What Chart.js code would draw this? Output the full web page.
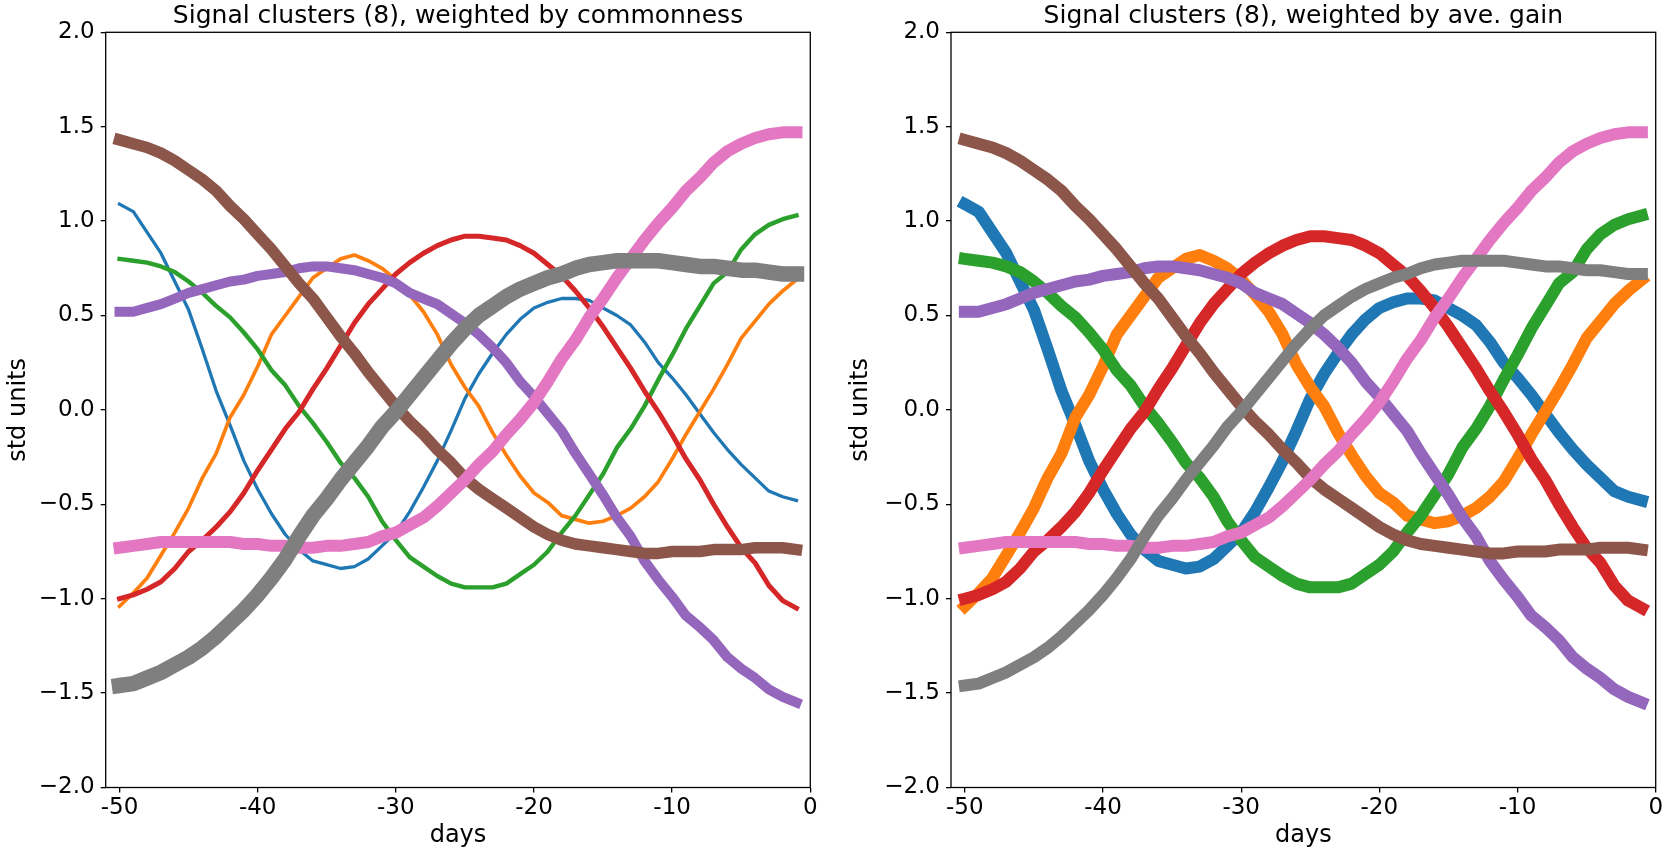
<!DOCTYPE html>
<html>
<head>
<meta charset="utf-8">
<title>Signal clusters</title>
<script src="https://cdn.jsdelivr.net/npm/chart.js@4"></script>
<style>
    html, body { margin: 0; padding: 0; background: #fff; }
    #page { position: relative; width: 1667px; height: 855px; overflow: hidden; }
    .panel { position: absolute; top: 0; }
    #panel-left { left: 0; }
    #panel-right { left: 842px; }
</style>
</head>
<body>
<div id="page">
    <div class="panel" id="panel-left"><canvas id="chart-left" width="842" height="855"></canvas></div>
    <div class="panel" id="panel-right"><canvas id="chart-right" width="825" height="855"></canvas></div>
</div>
<script>
// ─── Data ───
const days = [-50, -49, -48, -47, -46, -45, -44, -43, -42, -41,
    -40, -39, -38, -37, -36, -35, -34, -33, -32, -31,
    -30, -29, -28, -27, -26, -25, -24, -23, -22, -21,
    -20, -19, -18, -17, -16, -15, -14, -13, -12, -11,
    -10, -9, -8, -7, -6, -5, -4, -3, -2, -1];

const clusterBlue = [1.09, 1.05, 0.94, 0.83, 0.68, 0.53, 0.32, 0.10, -0.08, -0.27,
    -0.42, -0.55, -0.66, -0.74, -0.80, -0.82, -0.84, -0.83, -0.79, -0.72,
    -0.65, -0.54, -0.41, -0.27, -0.11, 0.06, 0.19, 0.30, 0.40, 0.48,
    0.54, 0.57, 0.59, 0.59, 0.58, 0.54, 0.50, 0.45, 0.36, 0.25,
    0.17, 0.08, -0.02, -0.12, -0.21, -0.29, -0.36, -0.43, -0.46, -0.48];

const clusterOrange = [-1.04, -0.97, -0.89, -0.77, -0.65, -0.52, -0.36, -0.23, -0.04, 0.08,
    0.23, 0.40, 0.50, 0.60, 0.70, 0.75, 0.80, 0.82, 0.79, 0.75,
    0.69, 0.61, 0.52, 0.40, 0.24, 0.12, 0.02, -0.12, -0.24, -0.35,
    -0.44, -0.49, -0.56, -0.58, -0.60, -0.59, -0.56, -0.52, -0.46, -0.38,
    -0.26, -0.13, -0.01, 0.11, 0.24, 0.38, 0.47, 0.56, 0.63, 0.69];

const clusterGreen = [0.80, 0.79, 0.78, 0.76, 0.73, 0.68, 0.62, 0.55, 0.49, 0.41,
    0.32, 0.21, 0.13, 0.02, -0.07, -0.17, -0.28, -0.36, -0.46, -0.59,
    -0.69, -0.78, -0.83, -0.88, -0.92, -0.94, -0.94, -0.94, -0.92, -0.87,
    -0.82, -0.75, -0.65, -0.56, -0.45, -0.34, -0.20, -0.10, 0.02, 0.16,
    0.29, 0.43, 0.55, 0.67, 0.73, 0.85, 0.93, 0.98, 1.01, 1.03];

const clusterRed = [-1.00, -0.98, -0.95, -0.91, -0.84, -0.75, -0.69, -0.62, -0.54, -0.44,
    -0.32, -0.21, -0.10, -0.01, 0.11, 0.22, 0.34, 0.46, 0.56, 0.64,
    0.72, 0.78, 0.83, 0.87, 0.90, 0.92, 0.92, 0.91, 0.90, 0.87,
    0.83, 0.77, 0.71, 0.63, 0.54, 0.44, 0.33, 0.22, 0.10, -0.01,
    -0.13, -0.26, -0.37, -0.50, -0.62, -0.73, -0.81, -0.93, -1.01, -1.05];

const clusterPurple = [0.52, 0.52, 0.54, 0.56, 0.59, 0.62, 0.64, 0.66, 0.68, 0.69,
    0.71, 0.72, 0.73, 0.75, 0.76, 0.76, 0.75, 0.74, 0.72, 0.70,
    0.67, 0.62, 0.59, 0.56, 0.51, 0.46, 0.40, 0.33, 0.25, 0.15,
    0.07, -0.02, -0.11, -0.23, -0.34, -0.45, -0.57, -0.67, -0.80, -0.90,
    -0.99, -1.09, -1.15, -1.22, -1.31, -1.37, -1.42, -1.48, -1.52, -1.55];

const clusterBrown = [1.43, 1.41, 1.39, 1.36, 1.32, 1.27, 1.22, 1.16, 1.08, 1.01,
    0.93, 0.85, 0.76, 0.67, 0.59, 0.49, 0.39, 0.30, 0.20, 0.11,
    0.02, -0.06, -0.13, -0.21, -0.28, -0.36, -0.42, -0.47, -0.52, -0.57,
    -0.62, -0.66, -0.69, -0.71, -0.72, -0.73, -0.74, -0.75, -0.76, -0.76,
    -0.75, -0.75, -0.75, -0.74, -0.74, -0.74, -0.73, -0.73, -0.73, -0.74];

const clusterPink = [-0.73, -0.72, -0.71, -0.70, -0.70, -0.70, -0.70, -0.70, -0.70, -0.71,
    -0.71, -0.72, -0.72, -0.73, -0.73, -0.72, -0.72, -0.71, -0.70, -0.67,
    -0.65, -0.61, -0.57, -0.51, -0.44, -0.37, -0.29, -0.22, -0.13, -0.05,
    0.04, 0.15, 0.27, 0.37, 0.49, 0.59, 0.70, 0.80, 0.90, 0.99,
    1.07, 1.16, 1.23, 1.31, 1.37, 1.41, 1.44, 1.46, 1.47, 1.47];

const clusterGray = [-1.46, -1.45, -1.42, -1.39, -1.35, -1.31, -1.26, -1.20, -1.13, -1.06,
    -0.98, -0.89, -0.79, -0.67, -0.56, -0.47, -0.37, -0.28, -0.19, -0.09,
    -0.01, 0.08, 0.17, 0.26, 0.35, 0.43, 0.50, 0.55, 0.60, 0.64,
    0.67, 0.70, 0.72, 0.75, 0.77, 0.78, 0.79, 0.79, 0.79, 0.79,
    0.78, 0.77, 0.76, 0.76, 0.75, 0.74, 0.74, 0.73, 0.72, 0.72];

const xTicks = [-50, -40, -30, -20, -10, 0];
const xTickLabels = ['-50', '-40', '-30', '-20', '-10', '0'];
const yTicks = [-2, -1.5, -1, -0.5, 0, 0.5, 1, 1.5, 2];
const yTickLabels = ['\u22122.0', '\u22121.5', '\u22121.0', '\u22120.5', '0.0', '0.5', '1.0', '1.5', '2.0'];

const titleLeft = 'Signal clusters (8), weighted by commonness';
const titleRight = 'Signal clusters (8), weighted by ave. gain';

(() => {
    'use strict';

    // ─── Styles ───
    const FONT = '"DejaVu Sans", "Liberation Sans", sans-serif';
    const colors = ['#1f77b4', '#ff7f0e', '#2ca02c', '#d62728', '#9467bd', '#8c564b', '#e377c2', '#7f7f7f'];
    const series = [clusterBlue, clusterOrange, clusterGreen, clusterRed, clusterPurple, clusterBrown, clusterPink, clusterGray];
    const widthsCommon = [3.3, 3.7, 4.4, 5, 10, 11.5, 12, 15.5];
    const widthsGain = [12, 12, 12, 12, 12, 12, 12, 12];

    // box around the plot area (matplotlib spines)
    const framePlugin = {
        id: 'frame',
        afterDatasetsDraw(chart) {
            const { ctx, chartArea: a } = chart;
            ctx.save();
            ctx.strokeStyle = '#000';
            ctx.lineWidth = 1.3;
            ctx.strokeRect(a.left, a.top, a.right - a.left, a.bottom - a.top);
            ctx.restore();
        },
    };

    function makeChart(id, title, widths, box) {
        const datasets = series.map((vals, i) => ({
            label: 'cluster ' + (i + 1),
            data: days.map((d, j) => ({ x: d, y: vals[j] })),
            borderColor: colors[i],
            backgroundColor: colors[i],
            borderWidth: widths[i],
            borderCapStyle: 'square',
            borderJoinStyle: 'round',
            pointRadius: 0,
            tension: 0,
            fill: false,
            clip: false,
            order: series.length - i,   // later series drawn on top
        }));

        return new Chart(document.getElementById(id), {
            type: 'line',
            data: { datasets },
            plugins: [framePlugin],
            options: {
                responsive: false,
                animation: false,
                layout: { padding: { left: 0, right: box.padRight, top: 0, bottom: 0 } },
                plugins: {
                    legend: { display: false },
                    tooltip: { enabled: false },
                    title: {
                        display: true,
                        fullSize: false,   // centre over the plot area, not the canvas
                        text: title,
                        color: '#000',
                        font: { family: FONT, size: 25, weight: 'normal' },
                        padding: { top: 1, bottom: 1.3 },
                    },
                },
                scales: {
                    x: {
                        type: 'linear',
                        min: -51,
                        max: 0,
                        afterBuildTicks: (axis) => { axis.ticks = xTicks.map(v => ({ value: v })); },
                        afterFit: (axis) => { axis.height = 67.5; },
                        ticks: {
                            color: '#000',
                            font: { family: FONT, size: 23 },
                            padding: 2,
                            maxRotation: 0,
                            autoSkip: false,
                            callback: (v, i) => xTickLabels[i],
                        },
                        grid: { drawOnChartArea: false, drawTicks: true, tickLength: 5, color: '#000', lineWidth: 1.3 },
                        border: { display: false },
                        title: {
                            display: true,
                            text: 'days',
                            color: '#000',
                            font: { family: FONT, size: 24 },
                            padding: { top: 0, bottom: 4.5 },
                        },
                    },
                    y: {
                        type: 'linear',
                        min: -2,
                        max: 2,
                        afterBuildTicks: (axis) => { axis.ticks = yTicks.map(v => ({ value: v })); },
                        afterFit: (axis) => { axis.width = box.yWidth; },
                        ticks: {
                            color: '#000',
                            font: { family: FONT, size: 23 },
                            padding: 6,
                            autoSkip: false,
                            callback: (v, i) => yTickLabels[i],
                        },
                        grid: { drawOnChartArea: false, drawTicks: true, tickLength: 5, color: '#000', lineWidth: 1.3 },
                        border: { display: false },
                        title: {
                            display: true,
                            text: 'std units',
                            color: '#000',
                            font: { family: FONT, size: 24 },
                            padding: { top: 4.6, bottom: 0 },
                        },
                    },
                },
            },
        });
    }

    // ─── Boot ───
    makeChart('chart-left', titleLeft, widthsCommon, { yWidth: 105.7, padRight: 31.7 });
    makeChart('chart-right', titleRight, widthsGain, { yWidth: 109, padRight: 11.3 });
})();
</script>
</body>
</html>
